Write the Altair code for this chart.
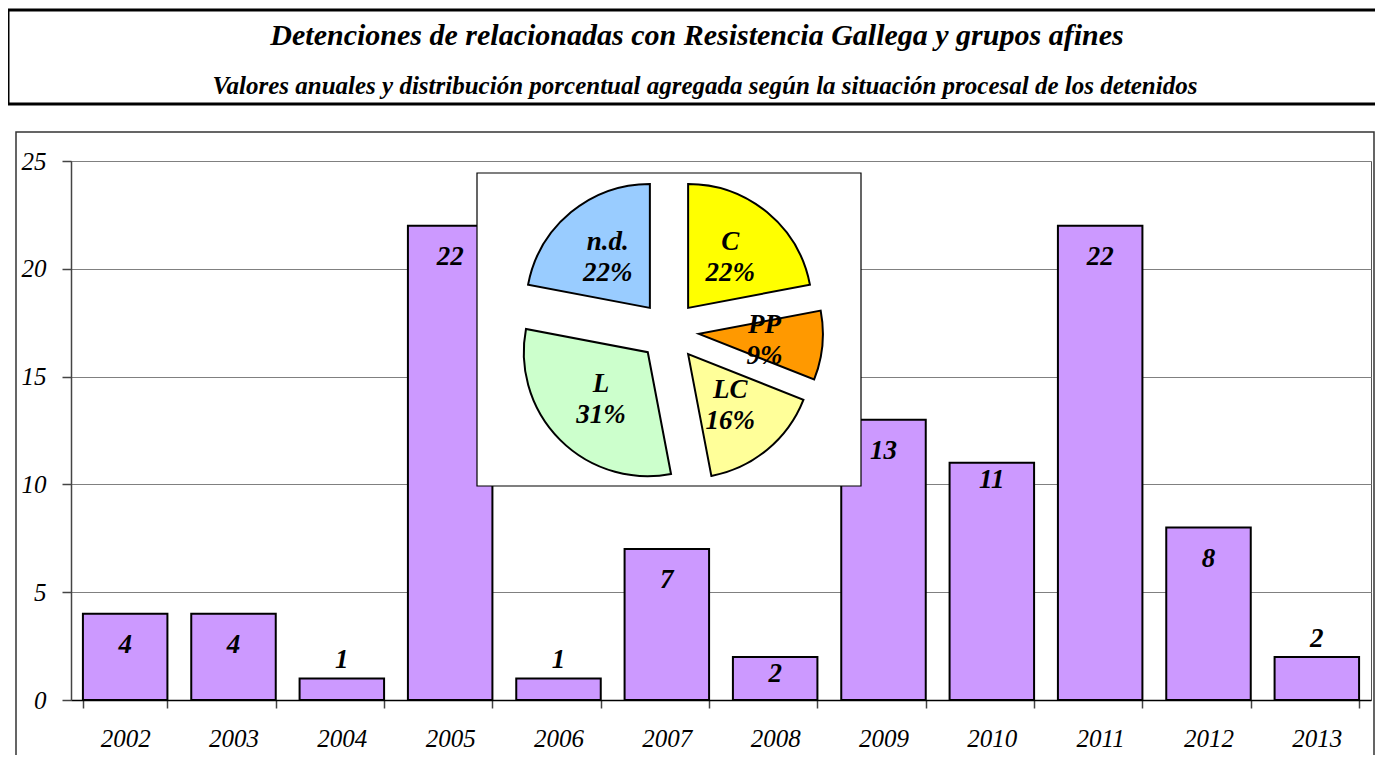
import altair as alt
import pandas as pd

# ---------------- data ----------------
years = ["2002", "2003", "2004", "2005", "2006", "2007",
         "2008", "2009", "2010", "2011", "2012", "2013"]
values = [4, 4, 1, 22, 1, 7, 2, 13, 11, 22, 8, 2]
label_above = ["2004", "2006", "2013"]
label_near_top = ["2008", "2010"]

pie_labels = ["C", "PP", "LC", "L", "n.d."]
pie_pct = [22, 9, 16, 31, 22]
pie_colors = ["#FFFF00", "#FF9900", "#FFFF99", "#CCFFCC", "#99CCFF"]

title_text = "Detenciones de relacionadas con Resistencia Gallega y grupos afines"
subtitle_text = ("Valores anuales y distribución porcentual agregada según la "
                 "situación procesal de los detenidos")

# ---------------- layout (style) ----------------
W, H = 1300, 539
FONT = "Liberation Serif, Times New Roman, serif"
PIE_CX, PIE_CY, PIE_R, EXPLODE, LAB_R = 598, 170, 124, 30, 66

bars_df = pd.DataFrame({"year": years, "value": values})
bars_df["pos"] = ["above" if y in label_above else ("near" if y in label_near_top else "inside")
                  for y in years]

pie_df = pd.DataFrame({"label": pie_labels, "pct": pie_pct,
                       "idx": list(range(len(pie_labels)))})

dummy = pd.DataFrame({"a": [0]})

# ---------------- frames and titles ----------------
chart_box = alt.Chart(dummy).mark_rect(filled=False, color="#333333", strokeWidth=1.5).encode(
    x=alt.value(-55), x2=alt.value(W + 3), y=alt.value(-29), y2=alt.value(H + 200))
title_box = alt.Chart(dummy).mark_rect(filled=False, color="black", strokeWidth=3).encode(
    x=alt.value(-63), x2=alt.value(W + 60), y=alt.value(-151), y2=alt.value(-57))
title = alt.Chart(dummy).mark_text(font=FONT, fontSize=30, fontWeight="bold", fontStyle="italic",
                                   align="center", baseline="middle", color="black").encode(
    x=alt.value(626), y=alt.value(-125), text=alt.value(title_text))
subtitle = alt.Chart(dummy).mark_text(font=FONT, fontSize=25, fontWeight="bold", fontStyle="italic",
                                      align="center", baseline="middle", color="black").encode(
    x=alt.value(634), y=alt.value(-75), text=alt.value(subtitle_text))

# ---------------- bars ----------------
xenc = alt.X("year:N", sort=years, title=None,
             scale=alt.Scale(paddingInner=0.22, paddingOuter=0.11),
             axis=alt.Axis(labelAngle=0, tickBand="extent", grid=False, domainColor="black",
                           domainWidth=1.5, tickColor="#444444", tickWidth=1.5, tickSize=8,
                           labelFont=FONT, labelFontStyle="italic", labelFontSize=25,
                           labelColor="black", labelPadding=18))
yenc = alt.Y("value:Q", title=None, scale=alt.Scale(domain=[0, 25], nice=False),
             axis=alt.Axis(values=[0, 5, 10, 15, 20, 25], grid=True, gridColor="#808080",
                           gridWidth=1, domainColor="#444444", domainWidth=1.5,
                           tickColor="#444444", tickWidth=1.5, tickSize=9,
                           labelFont=FONT, labelFontStyle="italic", labelFontSize=25,
                           labelColor="black", labelPadding=16))

bars = alt.Chart(bars_df).mark_bar(color="#CC99FF", stroke="black", strokeWidth=2).encode(
    x=xenc, y=yenc)


def bar_labels(pos, dy):
    return alt.Chart(bars_df).transform_filter(f"datum.pos == '{pos}'").mark_text(
        font=FONT, fontSize=27, fontWeight="bold", fontStyle="italic", color="black",
        baseline="middle", dy=dy).encode(x=xenc, y=yenc, text="value:Q")


bar_layer = alt.layer(bars, bar_labels("inside", 31), bar_labels("near", 17),
                      bar_labels("above", -18))

# ---------------- pie inset ----------------
inset = alt.Chart(dummy).mark_rect(fill="white", stroke="black", strokeWidth=1.2).encode(
    x=alt.value(406), x2=alt.value(790), y=alt.value(12), y2=alt.value(325))

pie_base = alt.Chart(pie_df).transform_window(
    cum="sum(pct)", sort=[alt.SortField("idx")], frame=[None, 0]
).transform_joinaggregate(total="sum(pct)").transform_calculate(
    t1="datum.cum / datum.total * 2 * PI",
    t0="(datum.cum - datum.pct) / datum.total * 2 * PI",
).transform_calculate(
    mid="(datum.t0 + datum.t1) / 2"
).transform_calculate(
    cx=f"{PIE_CX} + {EXPLODE} * sin(datum.mid)",
    cy=f"{PIE_CY} - {EXPLODE} * cos(datum.mid)",
).transform_calculate(
    lx=f"datum.cx + {LAB_R} * sin(datum.mid)",
    ly=f"datum.cy - {LAB_R} * cos(datum.mid)",
    txt="datum.label + '\\n' + datum.pct + '%'",
)

arcs = pie_base.mark_arc(radius=PIE_R, stroke="black", strokeWidth=2).encode(
    x=alt.X("cx:Q", scale=None, axis=None),
    y=alt.Y("cy:Q", scale=None, axis=None),
    theta=alt.Theta("t0:Q", scale=None),
    theta2="t1:Q",
    color=alt.Color("label:N", scale=alt.Scale(domain=pie_labels, range=pie_colors), legend=None),
)
pie_text = pie_base.mark_text(font=FONT, fontSize=27, fontWeight="bold", fontStyle="italic",
                              color="black", align="center", baseline="middle", dy=-15,
                              lineBreak="\n", lineHeight=31).encode(
    x=alt.X("lx:Q", scale=None, axis=None),
    y=alt.Y("ly:Q", scale=None, axis=None),
    text="txt:N",
)

pie_layer = alt.layer(inset, arcs, pie_text)

chart = alt.layer(chart_box, title_box, title, subtitle, bar_layer, pie_layer).resolve_scale(
    x="independent", y="independent"
).properties(
    width=W, height=H,
    autosize=alt.AutoSizeParams(type="none"),
    padding={"left": 63, "top": 153, "right": 4, "bottom": 55},
    background="white",
).configure_view(stroke="#555555", strokeWidth=1)

chart.save("out.html", embed_options={"renderer": "svg", "actions": False})
